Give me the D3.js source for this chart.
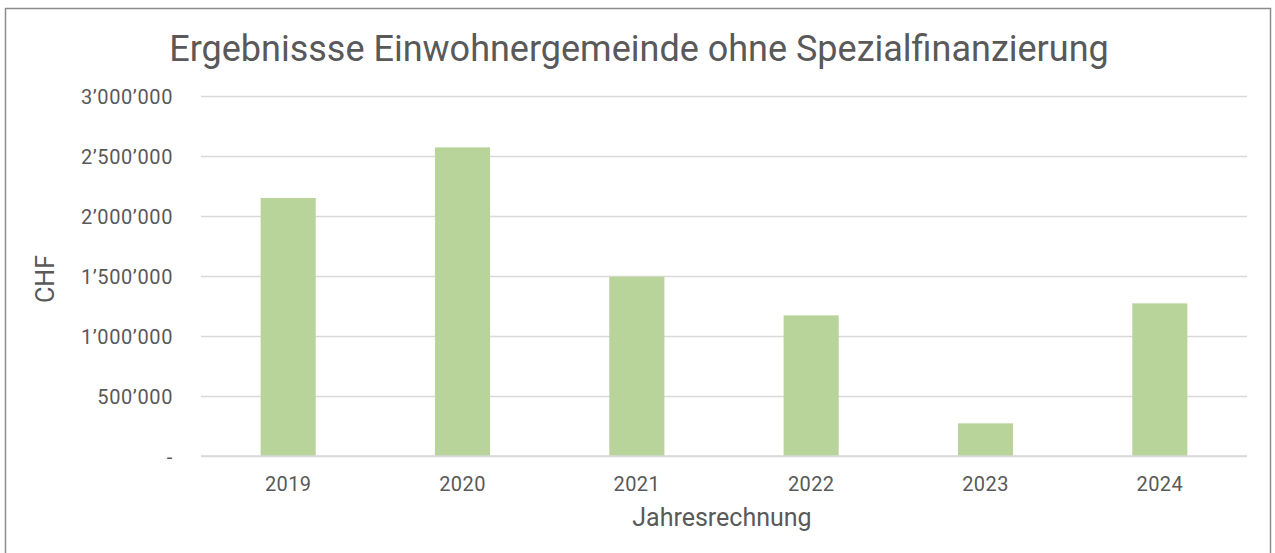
<!DOCTYPE html>
<html><head><meta charset="utf-8">
<script src="https://cdn.jsdelivr.net/npm/d3@7"></script>
<style>html,body{margin:0;padding:0;background:#fff;}svg{display:block;}</style>
</head><body>
<script>
const categories = ["2019","2020","2021","2022","2023","2024"];
const values = [2150000, 2572000, 1494000, 1172000, 272000, 1272000];
const yTicks = [0, 500000, 1000000, 1500000, 2000000, 2500000, 3000000];
const title = "Ergebnissse Einwohnergemeinde ohne Spezialfinanzierung";
const xTitle = "Jahresrechnung";
const yTitle = "CHF";

const W = 1275, H = 553;
const m = {left: 201, right: 1247, top: 96, bottom: 456};
const font = "Roboto, 'Liberation Sans', sans-serif";
const txt = "#595959";

const svg = d3.select("body").append("svg").attr("width", W).attr("height", H);
svg.append("rect").attr("x", 5.5).attr("y", 8.5).attr("width", 1265).attr("height", 560)
  .attr("fill", "#fff").attr("stroke", "#8c8c8c").attr("stroke-width", 1.5);

const x = d3.scaleBand().domain(categories).range([m.left, m.right]).paddingInner(0.684).paddingOuter(0.342);
const y = d3.scaleLinear().domain([0, 3000000]).range([m.bottom, m.top]);

const fmt = v => v === 0 ? "-" : d3.format(",")(v).replace(/,/g, "\u2019");

const yAxis = d3.axisLeft(y).tickValues(yTicks).tickSize(-(m.right - m.left)).tickPadding(28).tickFormat(fmt);
const gy = svg.append("g").attr("transform", `translate(${m.left},0)`).call(yAxis);
gy.select(".domain").remove();
gy.selectAll(".tick line").attr("stroke", "#d9d9d9").attr("stroke-width", 1.5);
gy.selectAll(".tick text").attr("fill", txt).style("font-family", font).style("font-size", "20px")
  .style("letter-spacing", "0.6px").attr("dy", "0.36em");

svg.append("g").selectAll("rect").data(categories).join("rect")
  .attr("x", d => x(d)).attr("width", x.bandwidth())
  .attr("y", (d, i) => y(values[i])).attr("height", (d, i) => y(0) - y(values[i]))
  .attr("fill", "#b8d49a");

const xAxis = d3.axisBottom(x).tickSize(0).tickPadding(21);
const gx = svg.append("g").attr("transform", `translate(0,${m.bottom})`).call(xAxis);
gx.select(".domain").remove();
gx.selectAll(".tick text").attr("fill", txt).style("font-family", font).style("font-size", "20px")
  .style("letter-spacing", "0.4px");
svg.append("line").attr("x1", m.left).attr("x2", m.right).attr("y1", m.bottom).attr("y2", m.bottom)
  .attr("stroke", "#d9d9d9").attr("stroke-width", 1.5);

svg.append("text").attr("x", 639).attr("y", 61).attr("text-anchor", "middle")
  .attr("fill", txt).style("font-family", font).style("font-size", "36px").text(title);
svg.append("text").attr("x", 722).attr("y", 526).attr("text-anchor", "middle")
  .attr("fill", txt).style("font-family", font).style("font-size", "25px").text(xTitle);
svg.append("text").attr("transform", "translate(54,279) rotate(-90)").attr("text-anchor", "middle")
  .attr("fill", txt).style("font-family", font).style("font-size", "25px").text(yTitle);
</script>
</body></html>
